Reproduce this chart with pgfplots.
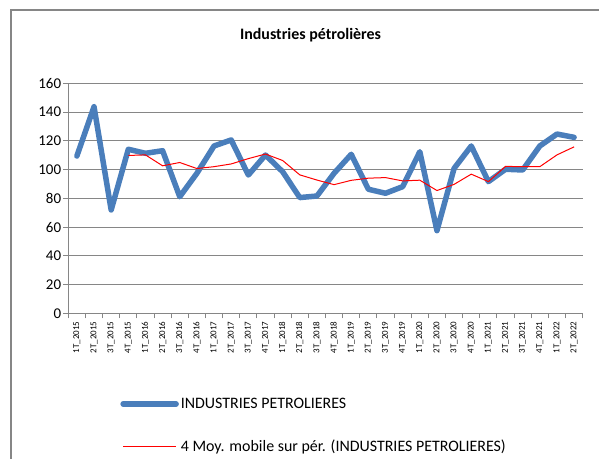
\documentclass[border=0pt]{standalone}
\usepackage{pgfplots}
\pgfplotsset{compat=1.18}
\usepackage{fontspec}
\setmainfont{Carlito}
\definecolor{serieblue}{RGB}{74,126,187}
\definecolor{gridgray}{RGB}{134,134,134}

\begin{document}
\begin{tikzpicture}
\path[use as bounding box] (0,0) rectangle (599bp,459bp);
\draw[gridgray, line width=2bp] (11bp,0) -- (11bp,449bp) -- (600bp,449bp);
\begin{axis}[
    at={(68.3bp,145.7bp)}, anchor=south west,
    scale only axis,
    width=514.4bp, height=230bp,
    xmin=-0.5, xmax=29.5,
    ymin=0, ymax=160,
    ytick={0,20,...,160},
    xtick={0,...,29},
    xticklabels={1T\_2015,2T\_2015,3T\_2015,4T\_2015,1T\_2016,2T\_2016,3T\_2016,4T\_2016,1T\_2017,2T\_2017,3T\_2017,4T\_2017,1T\_2018,2T\_2018,3T\_2018,4T\_2018,1T\_2019,2T\_2019,3T\_2019,4T\_2019,1T\_2020,2T\_2020,3T\_2020,4T\_2020,1T\_2021,2T\_2021,3T\_2021,4T\_2021,1T\_2022,2T\_2022},
    minor xtick={-0.5,0.5,...,29.5},
    axis x line=bottom, axis y line=left,
    axis line style={-, gridgray, line width=1bp},
    tick align=outside,
    major x tick style={draw=none},
    minor x tick style={gridgray, line width=1bp},
    minor tick length=5bp,
    major tick length=5bp,
    ytick style={gridgray, line width=1bp},
    ymajorgrids,
    major grid style={gridgray, line width=1bp},
    /pgf/number format/assume math mode=true,
    yticklabel style={font=\fontsize{15}{17}\selectfont, inner sep=2bp},
    xticklabel style={rotate=90, anchor=east, font=\fontsize{9}{10}\selectfont, inner sep=3bp},
    title={\textbf{Industries pétrolières}},
    title style={at={(0.471,1.184)}, anchor=center, font=\fontsize{16}{18}\selectfont},
    legend style={at={(0.095,-0.35)}, anchor=north west, draw=none, fill=none,
        font=\fontsize{16}{18}\selectfont, row sep=26bp, cells={anchor=west}},
    legend image code/.code={\draw[#1] (0bp,0bp) -- (53bp,0bp);},
    clip=false,
]
\addplot[serieblue, line width=5.5bp, line join=round, line cap=round] coordinates {
(0,109.4) (1,143.7) (2,71.9) (3,114.1) (4,111.3) (5,113.1) (6,81.1) (7,97.4)
(8,116.4) (9,120.6) (10,96.2) (11,110.1) (12,98.5) (13,80.5) (14,81.6) (15,97.4)
(16,110.6) (17,86.3) (18,83.5) (19,88.1) (20,112.4) (21,57.5) (22,100.8) (23,116.4)
(24,91.6) (25,100.2) (26,99.7) (27,116.4) (28,124.7) (29,122.4)
};
\addlegendentry{INDUSTRIES PETROLIERES}
\addplot[red, line width=1bp] coordinates {
(3,109.8) (4,110.2) (5,102.6) (6,104.9) (7,100.7) (8,102.0) (9,103.9) (10,107.6)
(11,110.8) (12,106.3) (13,96.3) (14,92.7) (15,89.5) (16,92.5) (17,94.0) (18,94.4)
(19,92.1) (20,92.6) (21,85.4) (22,89.7) (23,96.8) (24,91.6) (25,102.2) (26,102.0)
(27,102.0) (28,110.2) (29,115.8)
};
\addlegendentry{4 Moy. mobile sur pér. (INDUSTRIES PETROLIERES)}
\end{axis}
\end{tikzpicture}
\end{document}
